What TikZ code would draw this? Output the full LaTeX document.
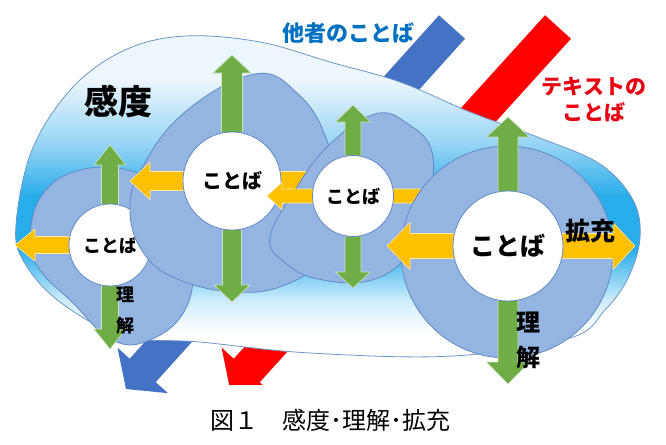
\documentclass[tikz,border=0pt]{standalone}
\usepackage{fontspec}
\setmainfont{Noto Sans CJK JP}
\usetikzlibrary{calc}

\definecolor{skyA}{RGB}{236,246,252}
\definecolor{skyB}{RGB}{150,212,244}
\definecolor{skyC}{RGB}{40,172,234}
\definecolor{skyD}{RGB}{205,236,250}
\definecolor{skyline}{RGB}{110,150,200}
\definecolor{blobfill}{RGB}{148,180,226}
\definecolor{blobline}{RGB}{98,138,196}
\definecolor{leaf}{RGB}{112,173,71}
\definecolor{amber}{RGB}{255,192,0}
\definecolor{otherblue}{RGB}{68,114,196}
\definecolor{othertext}{RGB}{0,112,192}
\definecolor{textred}{RGB}{230,0,18}

\pgfdeclareverticalshading{skyband}{100bp}{color(0bp)=(white); color(29bp)=(white);
  color(34bp)=(skyD); color(42bp)=(skyC); color(50bp)=(skyC); color(58bp)=(skyB);
  color(68bp)=(skyA); color(100bp)=(skyA)}

\tikzset{
  blob/.style={fill=blobfill, draw=blobline, line width=0.8pt},
  word/.style={circle, fill=white, draw=blobline, line width=0.8pt, inner sep=0pt},
  grn/.style={fill=leaf, draw=leaf!35!white, line width=0.6pt},
  org/.style={fill=amber, draw=amber!35!white, line width=0.6pt},
  jpbold/.style={font=\bfseries\fontsize{#1}{#1}\selectfont},
}

% fat arrow: style, from, tip, shaft half width, head half width, head length
\newcommand{\fatarrow}[6]{%
  \coordinate (fa-h) at ($(#3)!#6!(#2)$);
  \path[#1] ($(#2)!#4!90:(#3)$) -- ($(fa-h)!#4!90:(#3)$) -- ($(fa-h)!#5!90:(#3)$)
    -- (#3) -- ($(fa-h)!#5!-90:(#3)$) -- ($(fa-h)!#4!-90:(#3)$)
    -- ($(#2)!#4!-90:(#3)$) -- cycle;}

\begin{document}
\begin{tikzpicture}[x=1pt,y=-1pt]
  \useasboundingbox (0,0) rectangle (666,444);

  % the two incoming words
  \coordinate (otherTop) at (452,27);
  \coordinate (otherTip) at (126,389);
  \coordinate (textTop) at (558,27);
  \coordinate (textTip) at (230,389);
  \fatarrow{fill=otherblue}{otherTop}{otherTip}{17.5pt}{34pt}{25pt}
  \begin{scope}
    \clip (0,0) rectangle (666,384);
    \fatarrow{fill=red}{textTop}{textTip}{17.5pt}{34pt}{25pt}
  \end{scope}

  % sensitivity cloud
  \path[draw=skyline, line width=0.8pt, shading=skyband]
    plot[smooth cycle, tension=0.6] coordinates {(16,225) (32,150) (72,88) (125,50) (185,36)
      (260,42) (330,62) (400,82) (470,112) (540,138) (600,164) (633,200) (640,238) (628,278)
      (605,310) (570,338) (453,356) (310,353) (200,342) (123,336) (60,302) (24,262)};

  % left
  \path[blob] plot[smooth cycle, tension=0.7] coordinates {(30,240) (42,195) (80,170) (135,172)
    (175,200) (192,260) (185,310) (150,340) (112,340) (72,302) (40,270)};
  \coordinate (cA) at (110,245);
  \coordinate (aUp) at (110,145);
  \coordinate (aDn) at (110,349);
  \coordinate (aLt) at (15,245);
  \fatarrow{org}{cA}{aLt}{8.5pt}{16pt}{20pt}
  \fatarrow{grn}{cA}{aUp}{8.5pt}{16pt}{20pt}
  \fatarrow{grn}{cA}{aDn}{8.5pt}{16pt}{20pt}
  \node[word, minimum size=82pt, jpbold=18] (kA) at (cA) {ことば};

  % middle left
  \path[blob] plot[smooth cycle, tension=0.7] coordinates {(255,74) (298,94) (326,138) (338,200)
    (325,255) (285,285) (235,292) (180,280) (145,255) (130,212) (142,168) (185,112)};
  \coordinate (cB) at (232,181);
  \coordinate (bUp) at (232,55);
  \coordinate (bDn) at (232,302);
  \coordinate (bLt) at (130,181);
  \coordinate (bRt) at (370,181);
  \fatarrow{org}{cB}{bRt}{9.5pt}{18.5pt}{20pt}
  \fatarrow{org}{cB}{bLt}{9.5pt}{18.5pt}{20pt}
  \fatarrow{grn}{cB}{bUp}{10.5pt}{19pt}{18pt}
  \fatarrow{grn}{cB}{bDn}{9.5pt}{18pt}{17pt}
  \node[word, minimum size=98pt, jpbold=20] (kB) at (cB) {ことば};

  % middle right
  \path[blob] plot[smooth cycle, tension=0.7] coordinates {(375,114) (408,124) (432,152) (428,205)
    (410,252) (372,280) (318,279) (284,262) (270,238) (292,195) (328,146)};
  \coordinate (cC) at (353,196);
  \coordinate (cUp) at (353,105);
  \coordinate (cDn) at (353,288);
  \coordinate (cLt) at (267,196);
  \coordinate (cRt) at (475,196);
  \fatarrow{org}{cC}{cRt}{7pt}{13.5pt}{15pt}
  \fatarrow{org}{cC}{cLt}{7pt}{13.5pt}{15pt}
  \fatarrow{grn}{cC}{cUp}{8pt}{17.5pt}{17pt}
  \fatarrow{grn}{cC}{cDn}{8pt}{17.5pt}{16pt}
  \node[word, minimum size=81pt, jpbold=18] (kC) at (cC) {ことば};

  % right
  \path[blob] (507,252) circle (106);
  \coordinate (cD) at (508,246);
  \coordinate (dUp) at (508,117);
  \coordinate (dDn) at (508,384);
  \coordinate (dLt) at (387,246);
  \coordinate (dRt) at (635,246);
  \fatarrow{org}{cD}{dLt}{12.5pt}{23.5pt}{23pt}
  \fatarrow{org}{cD}{dRt}{12.5pt}{23.5pt}{22pt}
  \fatarrow{grn}{cD}{dUp}{10pt}{21.5pt}{20pt}
  \fatarrow{grn}{cD}{dDn}{10pt}{21.5pt}{22pt}
  \node[word, minimum size=110pt, jpbold=25] (kD) at (cD) {ことば};

  % labels
  \node[jpbold=34] (sense) at (118,101) {感度};
  \node[jpbold=22, text=othertext] (others) at (348,33) {他者のことば};
  \node[jpbold=21, text=textred, align=center, font=\bfseries\fontsize{21}{26}\selectfont] (texts) at (594,100) {テキストの\\ことば};
  \node[jpbold=25] (expand) at (590,231) {拡充};
  \node[align=center, font=\bfseries\fontsize{18}{31}\selectfont] (gripA) at (125,311) {理\\解};
  \node[align=center, font=\bfseries\fontsize{24}{35}\selectfont] (gripD) at (528,340) {理\\解};
  \node[font=\fontsize{24}{24}\selectfont] (caption) at (330,420) {図１　感度･理解･拡充};
\end{tikzpicture}
\end{document}
